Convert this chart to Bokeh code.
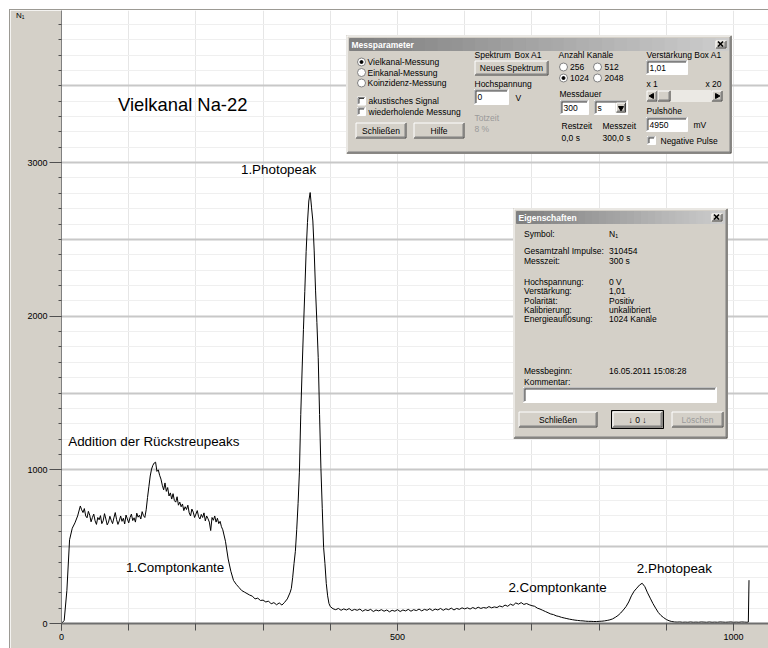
from bokeh.plotting import figure
from bokeh.models import Range1d, FixedTicker, Grid, SingleIntervalTicker, ColumnDataSource
from bokeh.core.properties import value
from bokeh.embed import file_html
from bokeh.resources import INLINE

# ---------------- Na-22 multichannel spectrum (counts N1 per channel) ----------------
channels_rise = list(range(0, 28, 4))
counts_rise = [0, 20, 215, 545, 620, 655, 700]

channels_plateau = list(range(28, 240, 2))
counts_plateau = [
    765, 740, 722, 748, 700, 688, 730, 705, 662, 690,
    712, 668, 645, 690, 675, 702, 650, 668, 715, 680,
    642, 660, 698, 672, 650, 688, 722, 676, 645, 668,
    700, 665, 685, 648, 706, 680, 655, 690, 712, 670,
    688, 660, 718, 692, 705, 680, 728, 702, 690, 740,
    820, 890, 960, 1005, 1030, 1045, 1050, 990, 1000, 965,
    940, 900, 870, 915, 860, 885, 830, 850, 810, 845,
    800, 790, 825, 770, 790, 760, 778, 735, 760, 742,
    770, 720, 700, 745, 725, 690, 712, 735, 695, 680,
    710, 690, 720, 668, 700, 682, 660, 605, 690, 672,
    700, 660, 685, 650, 665, 630,
]

channels_valley = list(range(240, 340, 4))
counts_valley = [
    610, 535, 420, 340, 280, 255, 235, 215, 205, 195,
    185, 178, 160, 165, 150, 152, 140, 146, 128, 136,
    122, 134, 120, 138, 160,
]

channels_peak = list(range(340, 400, 2))
counts_peak = [
    200, 228, 300, 390, 470, 610, 780, 985, 1360, 1650,
    1915, 2160, 2420, 2610, 2750, 2805, 2710, 2620, 2425, 2170,
    1960, 1730, 1360, 1010, 750, 495, 390, 260, 180, 130,
]

channels_high = list(range(400, 1024, 4))
counts_high = [
    110, 96, 90, 98, 86, 95, 88, 97, 84, 92,
    86, 94, 80, 90, 84, 92, 78, 88, 82, 90,
    80, 88, 76, 86, 80, 90, 78, 88, 82, 92,
    80, 90, 84, 94, 82, 92, 86, 96, 84, 94,
    88, 98, 86, 96, 90, 100, 88, 98, 92, 102,
    95, 102, 94, 104, 96, 106, 98, 104, 100, 110,
    102, 108, 104, 114, 108, 120, 112, 126, 118, 134,
    126, 136, 124, 130, 122, 116, 112, 100, 94, 86,
    78, 70, 62, 58, 50, 46, 40, 36, 32, 28,
    25, 22, 20, 18, 17, 15, 14, 14, 13, 13,
    14, 15, 17, 20, 24, 30, 40, 52, 68, 88,
    110, 140, 180, 210, 230, 250, 262, 240, 200, 165,
    130, 100, 72, 52, 38, 26, 18, 13, 10, 9,
    10, 8, 9, 8, 10, 8, 9, 8, 10, 9,
    8, 10, 8, 9, 8, 10, 9, 8, 9, 10,
    8, 9, 8, 10, 9, 8,
]
channels_end = [1022, 1023]
counts_end = [9, 282]

x_tick_values = [0, 500, 1000]
y_tick_values = [0, 1000, 2000, 3000]

# chart annotations: text, channel, counts, font size
ann_text = ["Vielkanal Na-22", "1.Photopeak", "Addition der Rückstreupeaks",
            "1.Comptonkante", "2.Comptonkante", "2.Photopeak"]
ann_channel = [84, 267, 10, 96, 665, 856]
ann_counts = [3375, 2952, 1182, 364, 234, 360]
ann_size = ["18.4px", "13.4px", "13.4px", "13.4px", "13.4px", "13.4px"]

X_END = 1052
Y_END = 3990
FACE = "#d4d0c8"
UI_FONT = "Liberation Sans"
UI_SIZE = "8.5px"
CHART_FONT = "Liberation Sans"

p = figure(width=758, height=638, margin=(10, 0, 0, 10),
           x_range=Range1d(0, X_END), y_range=Range1d(0, Y_END),
           output_backend="svg", toolbar_location=None,
           min_border_left=51, min_border_right=0, min_border_top=0, min_border_bottom=25,
           background_fill_color="white", border_fill_color=FACE)
p.styles = {"outline": "1px solid #9c9a94"}
p.outline_line_color = None

# grids: fine 100-steps, stronger every 500 counts
p.xgrid.visible = False
p.ygrid.visible = False
p.add_layout(Grid(dimension=0, ticker=SingleIntervalTicker(interval=100),
                  grid_line_color="#e6e6e6"))
p.add_layout(Grid(dimension=1, ticker=SingleIntervalTicker(interval=100),
                  grid_line_color="#efefef"))
p.add_layout(Grid(dimension=1, ticker=SingleIntervalTicker(interval=500),
                  grid_line_color="#c8c8c8", grid_line_width=2))

# axes
xa = p.xaxis[0]
xa.ticker = FixedTicker(ticks=x_tick_values, minor_ticks=list(range(0, 1100, 100)))
xa.major_tick_out = 7
xa.minor_tick_out = 7
xa.major_tick_in = 0
xa.minor_tick_in = 0
xa.major_label_standoff = 3
xa.axis_line_color = "#6e6e6e"
xa.axis_line_width = 2
xa.major_tick_line_color = "#505050"
xa.minor_tick_line_color = "#505050"
xa.major_label_text_font = CHART_FONT
xa.major_label_text_font_size = "9px"
xa.major_label_text_color = "#000000"

ya = p.yaxis[0]
ya.ticker = FixedTicker(ticks=y_tick_values, minor_ticks=list(range(0, 4000, 100)))
ya.major_tick_out = 12
ya.minor_tick_out = 3
ya.major_tick_in = 0
ya.minor_tick_in = 0
ya.major_label_standoff = 2
ya.axis_line_color = "#808080"
ya.major_tick_line_color = "#505050"
ya.minor_tick_line_color = "#505050"
ya.major_label_text_font = CHART_FONT
ya.major_label_text_font_size = "9px"
ya.major_label_text_color = "#000000"
ya.axis_label = "\nN₁"
ya.axis_label_orientation = "horizontal"
ya.axis_label_align = "end"
ya.axis_label_standoff = 0
ya.axis_label_text_font = CHART_FONT
ya.axis_label_text_font_size = "8px"
ya.axis_label_text_font_style = "normal"
ya.axis_label_text_color = "#000000"

# spectrum
channels = channels_rise + channels_plateau + channels_valley + channels_peak + channels_high + channels_end
counts = counts_rise + counts_plateau + counts_valley + counts_peak + counts_high + counts_end
p.line(channels, counts, line_color="#000000", line_width=1)

# annotations on the spectrum
p.text(x=ann_channel, y=ann_counts, text=ann_text, text_font=value(CHART_FONT),
       text_font_size=ann_size, text_baseline="middle", text_align="left",
       text_color="#000000")

# ---------------- dialog windows (laid out in window pixels) ----------------
FRAME_LEFT, FRAME_TOP, FRAME_W, FRAME_H = 61, 10, 707, 613


def dx(px):
    return (px - FRAME_LEFT) / FRAME_W * X_END


def dy(py):
    return (FRAME_TOP + FRAME_H - py) / FRAME_H * Y_END


rects = dict(left=[], right=[], top=[], bottom=[], fill=[], line=[])
segs = dict(x0=[], y0=[], x1=[], y1=[], color=[], width=[])
dots = dict(x=[], y=[], size=[], fill=[], line=[], marker=[], angle=[])
texts = dict(x=[], y=[], text=[], color=[], size=[], style=[], align=[])


def rect(x0, y0, x1, y1, fill, line=None):
    rects["left"].append(dx(x0)); rects["right"].append(dx(x1))
    rects["top"].append(dy(y0)); rects["bottom"].append(dy(y1))
    rects["fill"].append(fill); rects["line"].append(line or fill)


def seg(x0, y0, x1, y1, color, width=1):
    segs["x0"].append(dx(x0)); segs["y0"].append(dy(y0))
    segs["x1"].append(dx(x1)); segs["y1"].append(dy(y1))
    segs["color"].append(color); segs["width"].append(width)


def dot(x, y, size, fill, line, marker="circle", angle=0.0):
    dots["x"].append(dx(x)); dots["y"].append(dy(y)); dots["size"].append(size)
    dots["fill"].append(fill); dots["line"].append(line)
    dots["marker"].append(marker); dots["angle"].append(angle)


def label(x, y, s, color="#000000", size=UI_SIZE, style="normal", align="left"):
    texts["x"].append(dx(x)); texts["y"].append(dy(y)); texts["text"].append(s)
    texts["color"].append(color); texts["size"].append(size)
    texts["style"].append(style); texts["align"].append(align)


def raised(x0, y0, x1, y1, fill=FACE):
    rect(x0, y0, x1, y1, fill)
    seg(x0 + .5, y0 + .5, x1 - .5, y0 + .5, "#ffffff")
    seg(x0 + .5, y0 + .5, x0 + .5, y1 - .5, "#ffffff")
    seg(x0 + .5, y1 - .5, x1 - .5, y1 - .5, "#404040")
    seg(x1 - .5, y0 + .5, x1 - .5, y1 - .5, "#404040")
    seg(x0 + 1.5, y1 - 1.5, x1 - 1.5, y1 - 1.5, "#808080")
    seg(x1 - 1.5, y0 + 1.5, x1 - 1.5, y1 - 1.5, "#808080")


def sunken(x0, y0, x1, y1, fill="#ffffff"):
    rect(x0, y0, x1, y1, fill)
    seg(x0 + .5, y0 + .5, x1 - .5, y0 + .5, "#808080")
    seg(x0 + .5, y0 + .5, x0 + .5, y1 - .5, "#808080")
    seg(x0 + 1.5, y0 + 1.5, x1 - 1.5, y0 + 1.5, "#404040")
    seg(x0 + 1.5, y0 + 1.5, x0 + 1.5, y1 - 1.5, "#404040")
    seg(x0 + .5, y1 - .5, x1 - .5, y1 - .5, "#ffffff")
    seg(x1 - .5, y0 + .5, x1 - .5, y1 - .5, "#ffffff")


def button(x0, y0, x1, y1, caption, color="#000000", default=False):
    if default:
        rect(x0 - 1, y0 - 1, x1 + 1, y1 + 1, "#000000")
    raised(x0, y0, x1, y1)
    label((x0 + x1) / 2, (y0 + y1) / 2, caption, color=color, align="center")


def field(x0, y0, x1, y1, s):
    sunken(x0, y0, x1, y1)
    if s:
        label(x0 + 3, (y0 + y1) / 2, s)


def radio(x, y, checked):
    dot(x, y, 8, "#ffffff", "#808080")
    if checked:
        dot(x, y, 3, "#000000", "#000000")


def checkbox(x0, y0):
    sunken(x0, y0, x0 + 8, y0 + 8)


def window(x0, y0, x1, y1, caption):
    raised(x0, y0, x1, y1)
    tx0, ty0, tx1, ty1 = x0 + 3, y0 + 3, x1 - 3, y0 + 15
    n = 30
    w = (tx1 - tx0) / n
    for i in range(n):
        c = int(128 + i / (n - 1) * (204 - 128))
        rect(tx0 + i * w, ty0, tx0 + (i + 1) * w, ty1, f"#{c:02x}{c:02x}{c:02x}")
    label(tx0 + 2, (ty0 + ty1) / 2 + 0.5, caption, color="#ffffff", style="bold")
    bx0, bx1, by0, by1 = tx1 - 13, tx1 - 2, ty0 + 2, ty1 - 2
    raised(bx0, by0, bx1, by1)
    cx, cy = (bx0 + bx1) / 2 - 0.5, (by0 + by1) / 2 - 0.5
    seg(cx - 2.5, cy - 2.5, cx + 2.5, cy + 2.5, "#000000", 1.6)
    seg(cx - 2.5, cy + 2.5, cx + 2.5, cy - 2.5, "#000000", 1.6)


GRAY_TEXT = "#9a9a9a"

# --- "Messparameter" window ---
window(346, 35, 731, 153, "Messparameter")
radio(361, 61.5, True); label(367, 61.5, "Vielkanal-Messung")
radio(361, 72, False); label(367, 72, "Einkanal-Messung")
radio(361, 82.5, False); label(367, 82.5, "Koinzidenz-Messung")
checkbox(357, 96.5); label(368, 100.5, "akustisches Signal")
checkbox(357, 107); label(368, 111, "wiederholende Messung")
button(355, 122, 406, 138, "Schließen")
button(413, 122, 464, 138, "Hilfe")
label(474, 54, "Spektrum"); label(514, 54, "Box A1")
button(474, 60, 548, 75, "Neues Spektrum")
label(474, 83, "Hochspannung")
field(474, 89, 508, 104, "0")
label(515, 97, "V")
label(474, 117, "Totzeit", color=GRAY_TEXT)
label(474, 128, "8 %", color=GRAY_TEXT)
label(558, 54, "Anzahl Kanäle")
radio(563, 66.5, False); label(569.5, 66.5, "256")
radio(597, 66.5, False); label(604, 66.5, "512")
radio(563, 77.5, True); label(569.5, 77.5, "1024")
radio(597, 77.5, False); label(604, 77.5, "2048")
label(559, 93, "Messdauer")
field(560, 100, 588, 114, "300")
field(594, 100, 627, 114, "s")
raised(615.5, 102, 625.5, 112)
dot(620.5, 107.5, 5, "#000000", "#000000", marker="inverted_triangle")
label(561, 125, "Restzeit"); label(602, 125, "Messzeit")
label(561, 137, "0,0 s"); label(602, 137, "300,0 s")
label(646, 54, "Verstärkung Box A1")
field(646, 60, 687, 74, "1,01")
label(646, 83, "x 1"); label(705, 83, "x 20")
rect(646, 90, 722, 101, "#ebe9e4")
raised(646, 90, 657, 101)
raised(657, 90, 670, 101)
raised(711, 90, 722, 101)
dot(651.5, 95.5, 5, "#000000", "#000000", marker="triangle", angle=1.5708)
dot(716.5, 95.5, 5, "#000000", "#000000", marker="triangle", angle=-1.5708)
label(646, 110, "Pulshöhe")
field(646, 117, 687, 131, "4950")
label(693, 124, "mV")
checkbox(647, 136); label(660, 140, "Negative Pulse")

# --- "Eigenschaften" window ---
window(513, 208, 727, 438, "Eigenschaften")
props = [
    (233, "Symbol:", "N₁"),
    (250, "Gesamtzahl Impulse:", "310454"),
    (260, "Messzeit:", "300 s"),
    (281, "Hochspannung:", "0 V"),
    (290.5, "Verstärkung:", "1,01"),
    (300, "Polarität:", "Positiv"),
    (309, "Kalibrierung:", "unkalibriert"),
    (318.5, "Energieauflösung:", "1024 Kanäle"),
    (370, "Messbeginn:", "16.05.2011 15:08:28"),
    (381.5, "Kommentar:", ""),
]
for yy, name, val in props:
    label(523.5, yy, name)
    if val:
        label(608.5, yy, val)
field(523, 387, 716, 402, "")
button(518, 411, 597, 427, "Schließen")
button(612, 411, 662, 427, "↓ 0 ↓", default=True)
button(671, 411, 723, 427, "Löschen", color=GRAY_TEXT)

p.quad(left="left", right="right", top="top", bottom="bottom", source=ColumnDataSource(rects),
       fill_color="fill", line_color="line", line_width=1)
p.segment(x0="x0", y0="y0", x1="x1", y1="y1", source=ColumnDataSource(segs),
          line_color="color", line_width="width")
p.scatter(x="x", y="y", size="size", marker="marker", angle="angle", source=ColumnDataSource(dots),
          fill_color="fill", line_color="line", line_width=1)
p.text(x="x", y="y", text="text", source=ColumnDataSource(texts), text_color="color",
       text_font_size="size", text_font_style="style", text_align="align",
       text_baseline="middle", text_font=value(UI_FONT))

open("out.html", "w").write(file_html(p, INLINE))
